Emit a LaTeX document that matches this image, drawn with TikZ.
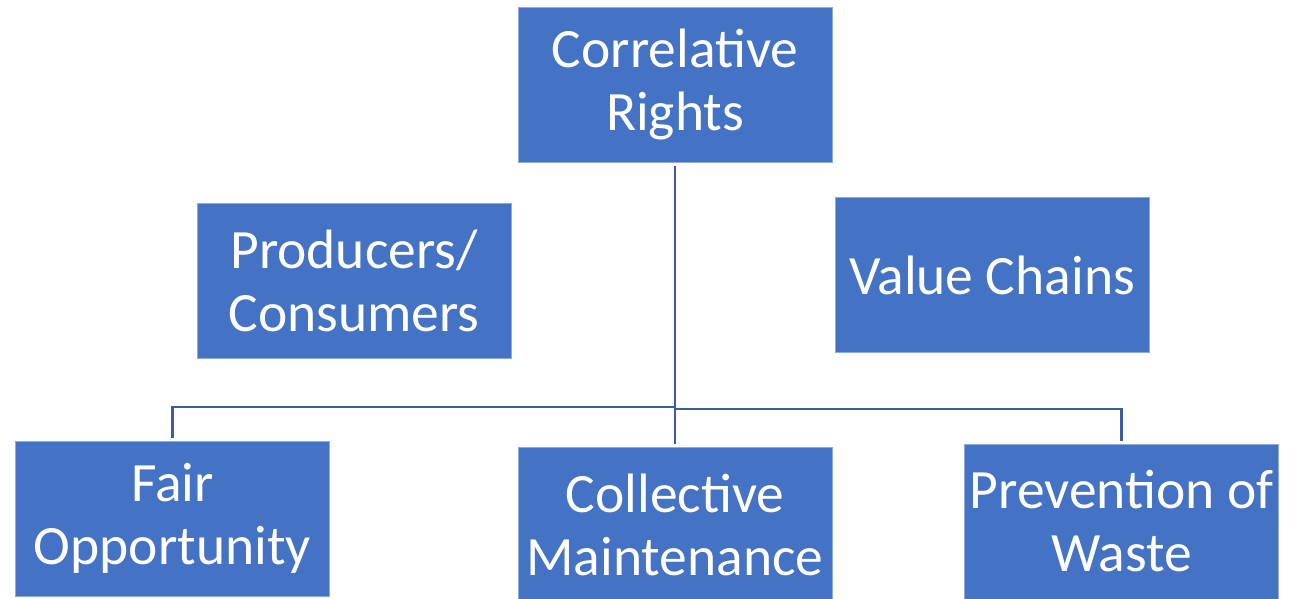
\documentclass[tikz,border=0pt]{standalone}
\usepackage{fontspec}
\setmainfont{Carlito}
\definecolor{boxblue}{HTML}{4472C4}
\definecolor{boxedge}{HTML}{8FAADC}
\definecolor{linkblue}{HTML}{3A5DA3}
\begin{document}
\begin{tikzpicture}[x=1pt,y=-1pt,
  box/.style={draw=boxedge,line width=1pt,fill=boxblue,text=white,
    minimum width=314pt,minimum height=155pt,inner sep=0pt,
    align=center,font=\fontsize{55.5}{63}\selectfont},
  conn/.style={draw=linkblue,line width=2.8pt}]
\useasboundingbox (0,0) rectangle (1304,598);
\node[box] (cr) at (675,84.5) {Correlative\\Rights};
\node[box] (pc) at (354,280.5) {Producers/\\Consumers};
\node[box] (vc) at (992,275) {Value Chains};
\node[box] (fo) at (172.5,518.5) {Fair\\Opportunity};
\node[box] (cm) at (675,524.5) {Collective\\Maintenance};
\node[box] (pw) at (1121.5,521.5) {Prevention of\\Waste};
\coordinate (jl) at (675,407);
\coordinate (jr) at (675,409);
\draw[conn,shorten <=3pt,shorten >=3pt] (cr.south) -- (cm.north);
\draw[conn,shorten >=3pt] (jl) -| (fo.north);
\draw[conn,shorten >=3pt] (jr) -| (pw.north);
\end{tikzpicture}
\end{document}
